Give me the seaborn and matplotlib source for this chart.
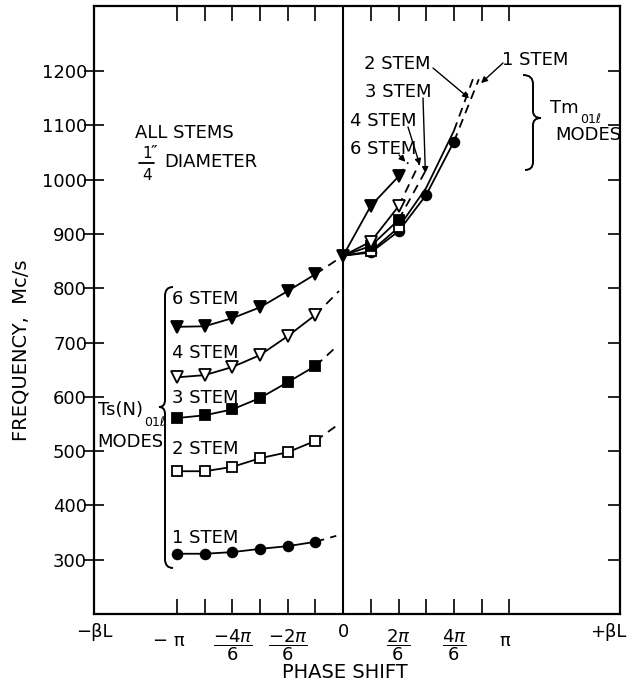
import matplotlib
matplotlib.use("Agg")
import matplotlib.pyplot as plt
import matplotlib.transforms as mtransforms
from matplotlib.path import Path
from matplotlib.patches import PathPatch
import pandas as pd
import seaborn as sns

# ---------------- data (phase in units of pi/6, frequency in Mc/s) ----------------
ts_phase = [-6, -5, -4, -3, -2, -1]
ts_1_stem = [311, 311, 314, 320, 325, 333]
ts_2_stem = [463, 463, 471, 487, 498, 519]
ts_3_stem = [561, 566, 577, 598, 627, 657]
ts_4_stem = [636, 640, 655, 677, 712, 751]
ts_6_stem = [729, 730, 745, 765, 795, 826]
# dashed extrapolations of the Ts curves toward zero phase (end points)
ts_ext_phase = [-0.25, -0.15, -0.25, -0.15, 0.0]
ts_ext_freq = [344, 550, 692, 795, 860]

tm_phase_1 = [0, 1, 2, 3, 4]
tm_1_stem = [860, 866, 905, 972, 1070]
tm_phase_2 = [0, 1, 2, 3, 4]
tm_2_stem = [860, 868, 912, 985, 1090]
tm_phase_3 = [0, 1, 2]
tm_3_stem = [860, 878, 926]
tm_phase_4 = [0, 1, 2]
tm_4_stem = [860, 886, 951]
tm_phase_6 = [0, 1, 2]
tm_6_stem = [860, 952, 1006]
# dashed extrapolations of the Tm curves (end points)
tm_ext_phase = [4.9, 4.72, 2.95, 2.75, 2.35]
tm_ext_freq = [1185, 1190, 1014, 1030, 1032]

stem_labels = ["1 STEM", "2 STEM", "3 STEM", "4 STEM", "6 STEM"]
x_tick_positions = [-6, -5, -4, -3, -2, -1, 1, 2, 3, 4, 5, 6]
y_ticks = [300, 400, 500, 600, 700, 800, 900, 1000, 1100, 1200]

# ---------------- figure ----------------
W, H = 636, 694
sns.set_theme(style="ticks")
plt.rcParams["font.family"] = ["DejaVu Sans"]
plt.rcParams["mathtext.fontset"] = "dejavusans"
plt.rcParams["text.color"] = "black"
plt.rcParams["axes.labelcolor"] = "black"
plt.rcParams["xtick.color"] = "black"
plt.rcParams["ytick.color"] = "black"

fig = plt.figure(figsize=(W / 100, H / 100), dpi=100)
L, R, T, B = 94, 620, 6, 614
ax = fig.add_axes([L / W, 1 - B / H, (R - L) / W, (B - T) / H])
ax.set_xlim(-9, 10)
ax.set_ylim(200, 1320)


def fp(x, y):
    return (x / W, 1 - y / H)


LW = 1.3
DASH = (0, (5, 3.5))
styles = {
    "1 STEM": dict(marker="o", ms=7.0, mfc="black"),
    "2 STEM": dict(marker="s", ms=6.8, mfc="white"),
    "3 STEM": dict(marker="s", ms=6.5, mfc="black"),
    "4 STEM": dict(marker="v", ms=8.5, mfc="white"),
    "6 STEM": dict(marker="v", ms=8.5, mfc="black"),
}


def draw_curve(xs, ys, label, ext_x, ext_y, markevery=None):
    st = styles[label]
    df = pd.DataFrame({"phase": xs, "freq": ys})
    ext = pd.DataFrame({"phase": [xs[-1], ext_x], "freq": [ys[-1], ext_y]})
    sns.lineplot(data=ext, x="phase", y="freq", ax=ax, color="black", lw=LW,
                 linestyle=DASH, sort=False, estimator=None)
    kw = dict(marker=st["marker"], markersize=st["ms"], markerfacecolor=st["mfc"],
              markeredgecolor="black", markeredgewidth=1.3)
    if markevery is not None:
        kw["markevery"] = markevery
    sns.lineplot(data=df, x="phase", y="freq", ax=ax, color="black", lw=LW,
                 sort=False, estimator=None, zorder=3, **kw)


ts_series = [ts_1_stem, ts_2_stem, ts_3_stem, ts_4_stem, ts_6_stem]
for lab, ys, ex, ey in zip(stem_labels, ts_series, ts_ext_phase, ts_ext_freq):
    draw_curve(ts_phase, ys, lab, ex, ey)

tm_series = [(tm_phase_1, tm_1_stem), (tm_phase_2, tm_2_stem), (tm_phase_3, tm_3_stem),
             (tm_phase_4, tm_4_stem), (tm_phase_6, tm_6_stem)]
tm_marks = [[1, 2, 3, 4], [1, 2], [1, 2], [1, 2], [0, 1, 2]]
for lab, (xs, ys), ex, ey, mk in zip(stem_labels, tm_series, tm_ext_phase, tm_ext_freq, tm_marks):
    draw_curve(xs, ys, lab, ex, ey, markevery=mk)

ax.axvline(0, color="black", lw=1.5, zorder=1)

# ---------------- axes styling ----------------
for s in ax.spines.values():
    s.set_linewidth(1.6)
    s.set_color("black")
ax.set_xticks(x_tick_positions)
ax.set_xticklabels([])
ax.tick_params(axis="x", which="major", direction="in", length=11, width=1.2,
               top=True, bottom=True, colors="black")
ax.set_yticks(y_ticks)
ax.set_yticklabels([str(v) for v in y_ticks])
ax.tick_params(axis="y", which="major", direction="inout", length=15, width=1.2,
               left=True, right=False, pad=-2.5, labelsize=13, colors="black")
ax2 = ax.twinx()
ax2.set_ylim(ax.get_ylim())
ax2.set_yticks(y_ticks)
ax2.set_yticklabels([])
ax2.tick_params(axis="y", direction="in", length=9, width=1.2, colors="black")
for s in ax2.spines.values():
    s.set_visible(False)
ax.grid(False)

ax.set_xlabel("PHASE SHIFT", fontsize=14, color="black")
ax.xaxis.set_label_coords((345 - L) / (R - L), (B - 673) / (B - T))
ax.xaxis.label.set_va("center")
ax.set_ylabel("FREQUENCY,  Mc/s", fontsize=14, color="black")
ax.yaxis.set_label_coords((21 - L) / (R - L), (B - 350) / (B - T))
ax.yaxis.label.set_va("center")

# x-axis tick labels (phase)
bt = mtransforms.blended_transform_factory(ax.transData, fig.transFigure)
fs = 13
ax.text(-9, 1 - 632 / H, "−βL", transform=bt, ha="center", va="center", fontsize=fs)
ax.text(9.58, 1 - 632 / H, "+βL", transform=bt, ha="center", va="center", fontsize=fs)
ax.text(0, 1 - 632 / H, "0", transform=bt, ha="center", va="center", fontsize=fs)
ax.text(-6.3, 1 - 641 / H, "− π", transform=bt, ha="center", va="center", fontsize=fs)
ax.text(5.85, 1 - 641 / H, "π", transform=bt, ha="center", va="center", fontsize=fs)
for xv, num in [(-4, r"-4\pi"), (-2, r"-2\pi"), (2, r"2\pi"), (4, r"4\pi")]:
    ax.text(xv, 1 - 645 / H, r"$\dfrac{%s}{6}$" % num, transform=bt, ha="center",
            va="center", fontsize=fs)


# ---------------- annotations ----------------
def label(x, y, s, size=13, ha="left"):
    cap = 0.73 * size * 100 / 72
    fig.text(x / W, 1 - (y + cap / 2) / H, s, ha=ha, va="baseline", fontsize=size,
             color="black")


for lab, yc in zip(["6 STEM", "4 STEM", "3 STEM", "2 STEM", "1 STEM"], [297, 351, 396, 447, 536]):
    label(172, yc, lab)

label(135, 131, "ALL STEMS")
label(164, 160, "DIAMETER")
label(142, 152, "1", size=11)
label(151, 151, "″", size=13)
label(142, 174, "4", size=11)
fig.add_artist(plt.Line2D([139 / W, 154 / W], [1 - 163 / H, 1 - 163 / H], color="black", lw=1.3))

label(98, 408, "Ts(N)")
label(144, 421, "01ℓ", size=9)
label(97, 440, "MODES")

label(364, 62, "2 STEM")
label(365, 90, "3 STEM")
label(350, 119, "4 STEM")
label(350, 147, "6 STEM")
label(502, 58, "1 STEM")
label(550, 106, "Tm")
label(580, 118, "01ℓ", size=9)
label(555, 133, "MODES")


def brace(points):
    verts = [fp(*p) for p in points]
    codes = [Path.MOVETO, Path.CURVE3, Path.CURVE3, Path.LINETO, Path.CURVE3, Path.CURVE3,
             Path.CURVE3, Path.CURVE3, Path.LINETO, Path.CURVE3, Path.CURVE3]
    fig.add_artist(PathPatch(Path(verts, codes), transform=fig.transFigure, fill=False,
                             lw=1.4, color="black"))


# left brace for Ts modes
brace([(173, 287), (165, 287), (165, 296), (165, 400), (165, 407), (159, 407),
       (165, 407), (165, 414), (165, 559), (165, 568), (173, 568)])
# right brace for Tm modes
brace([(523, 75), (533, 75), (533, 84), (533, 111), (533, 118), (541, 118),
       (533, 118), (533, 125), (533, 162), (533, 170), (525, 170)])

arrow = dict(arrowstyle="-|>", color="black", lw=1.0, mutation_scale=9, shrinkA=0, shrinkB=0)
ax.annotate("", xy=(4.98, 1178), xytext=fp(503, 63), textcoords="figure fraction", arrowprops=arrow)
ax.annotate("", xy=(4.55, 1150), xytext=fp(433, 68), textcoords="figure fraction", arrowprops=arrow)
ax.annotate("", xy=(2.97, 1012), xytext=fp(423, 98), textcoords="figure fraction", arrowprops=arrow)
ax.annotate("", xy=(2.77, 1027), xytext=fp(408, 127), textcoords="figure fraction", arrowprops=arrow)
ax.annotate("", xy=(2.25, 1033), xytext=fp(399, 155), textcoords="figure fraction", arrowprops=arrow)

fig.savefig("out.png", dpi=100)
